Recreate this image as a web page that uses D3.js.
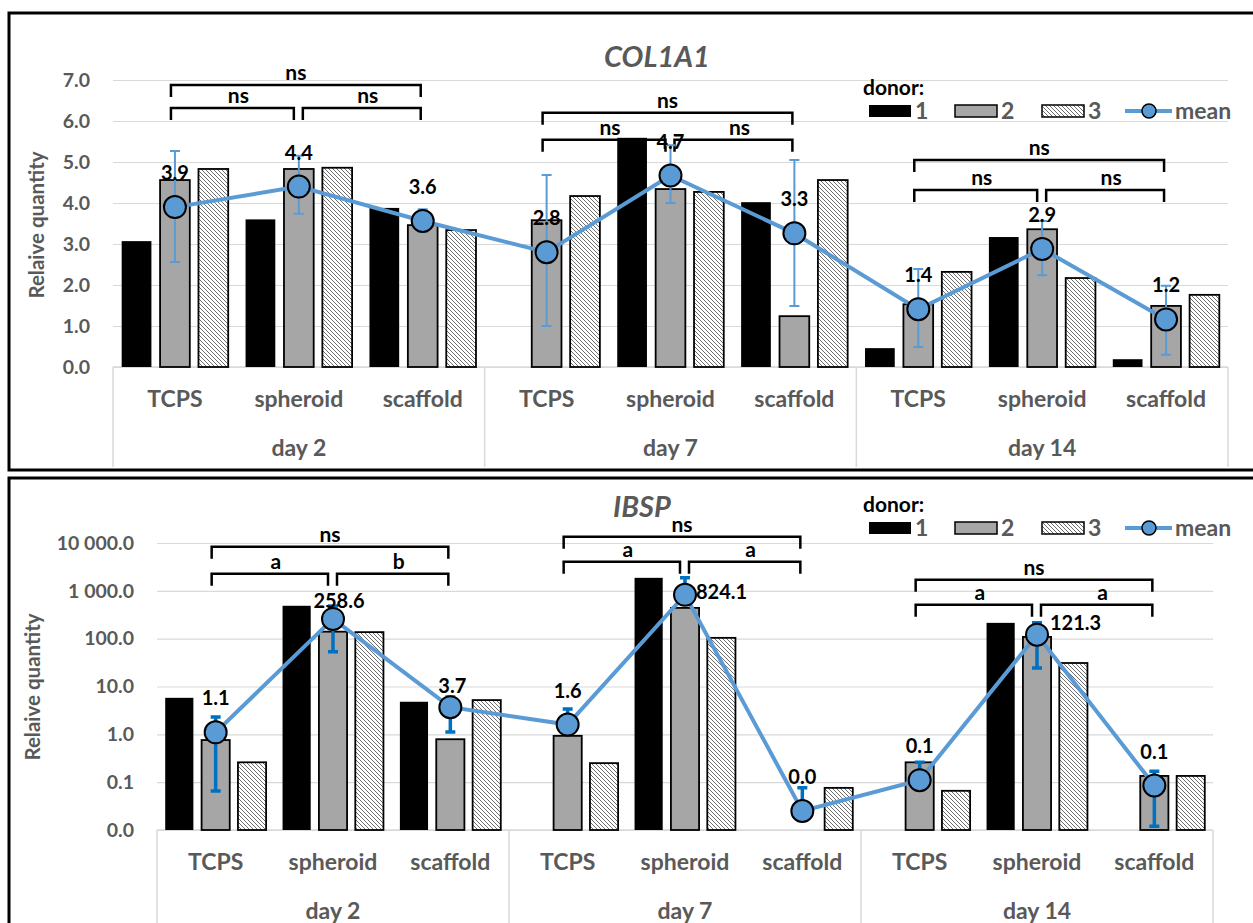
<!DOCTYPE html>
<html lang="en">
<head>
<meta charset="UTF-8">
<title>COL1A1 / IBSP</title>
<script src="https://cdn.jsdelivr.net/npm/d3@7"></script>
<style>
    body { margin: 0; background: #fff; overflow: hidden; }
    text { font-family: Lato, "Open Sans", sans-serif; }
</style>
</head>
<body>
<script>
    // categories
    const groups = ["TCPS", "spheroid", "scaffold", "TCPS", "spheroid", "scaffold", "TCPS", "spheroid", "scaffold"];
    const days = ["day 2", "day 7", "day 14"];
    const donors = ["1", "2", "3"];

    // COL1A1 (linear)
    const colDonor1 = [3.07, 3.60, 3.88, 0, 5.59, 4.02, 0.46, 3.17, 0.19];
    const colDonor2 = [4.56, 4.83, 3.46, 3.58, 4.34, 1.24, 1.53, 3.36, 1.49];
    const colDonor3 = [4.83, 4.86, 3.34, 4.17, 4.27, 4.56, 2.32, 2.17, 1.76];
    const colMean = [3.9, 4.4, 3.56, 2.8, 4.67, 3.26, 1.41, 2.88, 1.16];
    const colErrLow = [2.56, 3.74, 3.3, 1.0, 4.0, 1.49, 0.49, 2.24, 0.3];
    const colErrHigh = [5.27, 5.15, 3.85, 4.68, 5.41, 5.05, 2.39, 3.56, 1.98];
    const colTicks = [0, 1, 2, 3, 4, 5, 6, 7];
    // brackets: [from group, to group, height, label]
    const colBrackets = [
        [0, 2, 6.88, "ns"], [0, 1, 6.32, "ns"], [1, 2, 6.32, "ns"],
        [3, 5, 6.2, "ns"], [3, 4, 5.54, "ns"], [4, 5, 5.54, "ns"],
        [6, 8, 5.05, "ns"], [6, 7, 4.32, "ns"], [7, 8, 4.32, "ns"]
    ];

    // IBSP (log)
    const ibspDonor1 = [5.8, 487, 4.8, null, 1870, null, null, 214, null];
    const ibspDonor2 = [0.76, 140, 0.79, 0.93, 440, null, 0.26, 109, 0.135];
    const ibspDonor3 = [0.26, 137, 5.2, 0.25, 104, 0.076, 0.066, 31, 0.135];
    const ibspMean = [1.1, 258.6, 3.7, 1.6, 824.1, 0.025, 0.11, 121.3, 0.085];
    const ibspErrLow = [0.065, 53, 1.12, 1.6, 824.1, 0.025, 0.11, 24.5, 0.012];
    const ibspErrHigh = [2.3, 480, 6.0, 3.4, 1870, 0.076, 0.26, 214, 0.17];
    const ibspTicks = [0.01, 0.1, 1, 10, 100, 1000, 10000];
    const ibspBrackets = [
        [0, 2, 8300, "ns"], [0, 1, 2280, "a"], [1, 2, 2280, "b"],
        [3, 5, 13500, "ns"], [3, 4, 4050, "a"], [4, 5, 4050, "a"],
        [6, 8, 1700, "ns"], [6, 7, 510, "a"], [7, 8, 510, "a"]
    ];

    const W = 1253, H = 923;
    const svg = d3.select("body").append("svg").attr("width", W).attr("height", H);

    const defs = svg.append("defs");
    const pat = defs.append("pattern").attr("id", "hatch")
        .attr("patternUnits", "userSpaceOnUse").attr("width", 4).attr("height", 4);
    pat.append("rect").attr("width", 4).attr("height", 4).attr("fill", "#fff");
    pat.append("path").attr("d", "M-1,-1L5,5M-1,3L1,5M3,-1L5,1")
        .attr("stroke", "#6e6e6e").attr("stroke-width", 1);

    const blue = "#5b9bd5";
    const fillFor = ["#000", "#a6a6a6", "url(#hatch)"];
    const grid = "#d9d9d9", textGray = "#595959";

    const ibspFmt = d3.formatLocale({decimal: ".", thousands: " ", grouping: [3], currency: ["", ""]}).format(",.1f");

    const panels = [
        {
            box: [9, 13, 457], left: 113, right: 1228, top: 80, bottom: 367, tableBottom: 467,
            y: d3.scaleLinear().domain([0, 7]).range([367, 80]),
            ticks: colTicks, fmt: d3.format(".1f"), base: 0,
            series: [colDonor1, colDonor2, colDonor3], mean: colMean, lo: colErrLow, hi: colErrHigh,
            brackets: colBrackets, title: "COL1A1", titleX: 657, titleY: 57,
            ytitleX: 37, ytitleY: 225, legendY: 105,
            errColor: blue, errWidth: 2, labelFmt: d3.format(".1f"),
            place: {}
        },
        {
            box: [9, 478, 500], left: 157, right: 1213, top: 543, bottom: 830, tableBottom: 930,
            y: d3.scaleLog().domain([0.01, 10000]).range([830, 543]),
            ticks: ibspTicks, fmt: ibspFmt, base: 0.01,
            series: [ibspDonor1, ibspDonor2, ibspDonor3], mean: ibspMean, lo: ibspErrLow, hi: ibspErrHigh,
            brackets: ibspBrackets, title: "IBSP", titleX: 642, titleY: 507,
            ytitleX: 33, ytitleY: 687, legendY: 522,
            errColor: "#0070c0", errWidth: 3.5, labelFmt: d3.format(".1f"),
            place: {1: [6, -18, "middle"], 2: [2, -21, "middle"], 4: [11, -3, "start"], 7: [13, -12, "start"]}
        }
    ];

    panels.forEach(function (p) {
        const g = svg.append("g");
        const plotW = p.right - p.left;

        g.append("rect").attr("x", p.box[0]).attr("y", p.box[1])
            .attr("width", 1400).attr("height", p.box[2])
            .attr("fill", "none").attr("stroke", "#000").attr("stroke-width", 3);

        // gridlines + tick labels
        const yAxis = d3.axisLeft(p.y).tickValues(p.ticks).tickFormat(p.fmt)
            .tickSize(-plotW).tickPadding(23);
        const ya = g.append("g").attr("transform", `translate(${p.left},0)`).call(yAxis);
        ya.select(".domain").remove();
        ya.selectAll("line").attr("stroke", grid).attr("stroke-width", 1.2);
        ya.selectAll("text").attr("fill", textGray).attr("font-size", 19.5).attr("font-weight", 700)
            .style("font-family", "Lato, sans-serif");

        g.append("text").attr("transform", `translate(${p.ytitleX},${p.ytitleY}) rotate(-90)`)
            .attr("text-anchor", "middle").attr("dy", "0.35em")
            .attr("fill", textGray).attr("font-size", 20.5).attr("font-weight", 700)
            .text("Relaive quantity");

        // x scales
        const x0 = d3.scaleBand().domain(d3.range(groups.length)).range([p.left, p.right]);
        const x1 = d3.scaleBand().domain(d3.range(donors.length)).range([0, x0.bandwidth()]).padding(0.226);
        const xd = d3.scaleBand().domain(days).range([p.left, p.right]);

        // category table
        const xa = g.append("g").attr("transform", `translate(0,${p.bottom})`)
            .call(d3.axisBottom(x0).tickSize(0).tickPadding(24).tickFormat(i => groups[i]));
        xa.select(".domain").remove();
        xa.selectAll("text").attr("fill", textGray).attr("font-size", 23).attr("font-weight", 700);
        const da = g.append("g").attr("transform", `translate(0,${p.bottom})`)
            .call(d3.axisBottom(xd).tickSize(0).tickPadding(73));
        da.select(".domain").remove();
        da.selectAll("text").attr("fill", textGray).attr("font-size", 23).attr("font-weight", 700);

        g.append("line").attr("x1", p.left).attr("x2", p.right).attr("y1", p.bottom).attr("y2", p.bottom)
            .attr("stroke", grid).attr("stroke-width", 1.5);
        const seps = days.map(d => xd(d)).concat([p.right]);
        g.selectAll(".sep").data(seps).join("line")
            .attr("x1", d => d).attr("x2", d => d).attr("y1", p.bottom).attr("y2", p.tableBottom)
            .attr("stroke", grid).attr("stroke-width", 1.5);

        // bars
        p.series.forEach(function (vals, s) {
            g.append("g").selectAll("rect")
                .data(vals.map((v, i) => ({v: v, i: i})).filter(d => d.v))
                .join("rect")
                .attr("x", d => x0(d.i) + x1(s))
                .attr("width", x1.bandwidth())
                .attr("y", d => p.y(d.v))
                .attr("height", d => p.y(p.base) - p.y(d.v))
                .attr("fill", fillFor[s])
                .attr("stroke", s === 0 ? "none" : "#000")
                .attr("stroke-width", 1.8);
        });

        const cx = i => x0(i) + x0.bandwidth() / 2;

        // significance brackets
        const bg = g.append("g");
        p.brackets.forEach(function (b) {
            const outer = b[1] - b[0] === 2;
            const xa0 = cx(b[0]) - 4 + (b[0] % 3 === 1 ? 8 : 0);
            const xb0 = cx(b[1]) - (b[1] % 3 === 1 ? 5 : 2);
            const yy = p.y(b[2]);
            bg.append("path").attr("d", `M${xa0},${yy + 12}V${yy}H${xb0}V${yy + 12}`)
                .attr("fill", "none").attr("stroke", "#000").attr("stroke-width", 2.5);
            bg.append("text").attr("x", (xa0 + xb0) / 2 + (outer ? 0 : 6)).attr("y", yy - 5)
                .attr("text-anchor", "middle").attr("font-size", 21).attr("font-weight", 700)
                .attr("fill", "#000").text(b[3]);
        });

        // mean line
        g.append("path").datum(p.mean)
            .attr("d", d3.line().x((d, i) => cx(i)).y(d => p.y(d)))
            .attr("fill", "none").attr("stroke", blue).attr("stroke-width", 4);

        // error bars
        const eg = g.append("g").attr("stroke", p.errColor).attr("stroke-width", p.errWidth);
        p.mean.forEach(function (m, i) {
            const x = cx(i);
            if (p.hi[i] > m) {
                eg.append("path").attr("d", `M${x},${p.y(m)}V${p.y(p.hi[i])}M${x - 5},${p.y(p.hi[i])}H${x + 5}`);
            }
            if (p.lo[i] < m) {
                eg.append("path").attr("d", `M${x},${p.y(m)}V${p.y(p.lo[i])}M${x - 5},${p.y(p.lo[i])}H${x + 5}`);
            }
        });

        // markers
        g.append("g").selectAll("circle").data(p.mean).join("circle")
            .attr("cx", (d, i) => cx(i)).attr("cy", d => p.y(d)).attr("r", 11)
            .attr("fill", blue).attr("stroke", "#000").attr("stroke-width", 2);

        // data labels
        g.append("g").selectAll("text").data(p.mean).join("text")
            .each(function (d, i) {
                const pl = p.place[i] || [0, -34, "middle"];
                d3.select(this).attr("x", cx(i) + pl[0]).attr("y", p.y(d) + pl[1])
                    .attr("text-anchor", pl[2]);
            })
            .attr("dy", "0.35em").attr("font-size", 20).attr("font-weight", 700).attr("fill", "#000")
            .text(d => p.labelFmt(d));

        // title
        g.append("text").attr("x", p.titleX).attr("y", p.titleY).attr("dy", "0.35em")
            .attr("text-anchor", "middle").attr("font-size", 29).attr("font-weight", 700)
            .attr("font-style", "italic").attr("fill", textGray).text(p.title);

        // legend
        const ly = p.legendY;
        const lg = g.append("g");
        lg.append("text").attr("x", 863).attr("y", ly - 10).attr("font-size", 21).attr("font-weight", 700)
            .attr("fill", "#000").text("donor:");
        const swX = [869, 955, 1042];
        donors.forEach(function (d, s) {
            lg.append("rect").attr("x", swX[s]).attr("y", ly).attr("width", 42).attr("height", 12)
                .attr("fill", fillFor[s]).attr("stroke", s === 0 ? "none" : "#000").attr("stroke-width", 1.5);
            lg.append("text").attr("x", swX[s] + 46).attr("y", ly + 6).attr("dy", "0.35em")
                .attr("font-size", 23).attr("font-weight", 700).attr("fill", textGray).text(d);
        });
        lg.append("line").attr("x1", 1125).attr("x2", 1172).attr("y1", ly + 6).attr("y2", ly + 6)
            .attr("stroke", blue).attr("stroke-width", 4);
        lg.append("circle").attr("cx", 1149).attr("cy", ly + 6).attr("r", 7)
            .attr("fill", blue).attr("stroke", "#000").attr("stroke-width", 1.5);
        lg.append("text").attr("x", 1175).attr("y", ly + 6).attr("dy", "0.35em")
            .attr("font-size", 23).attr("font-weight", 700).attr("fill", textGray).text("mean");
    });
</script>
</body>
</html>
